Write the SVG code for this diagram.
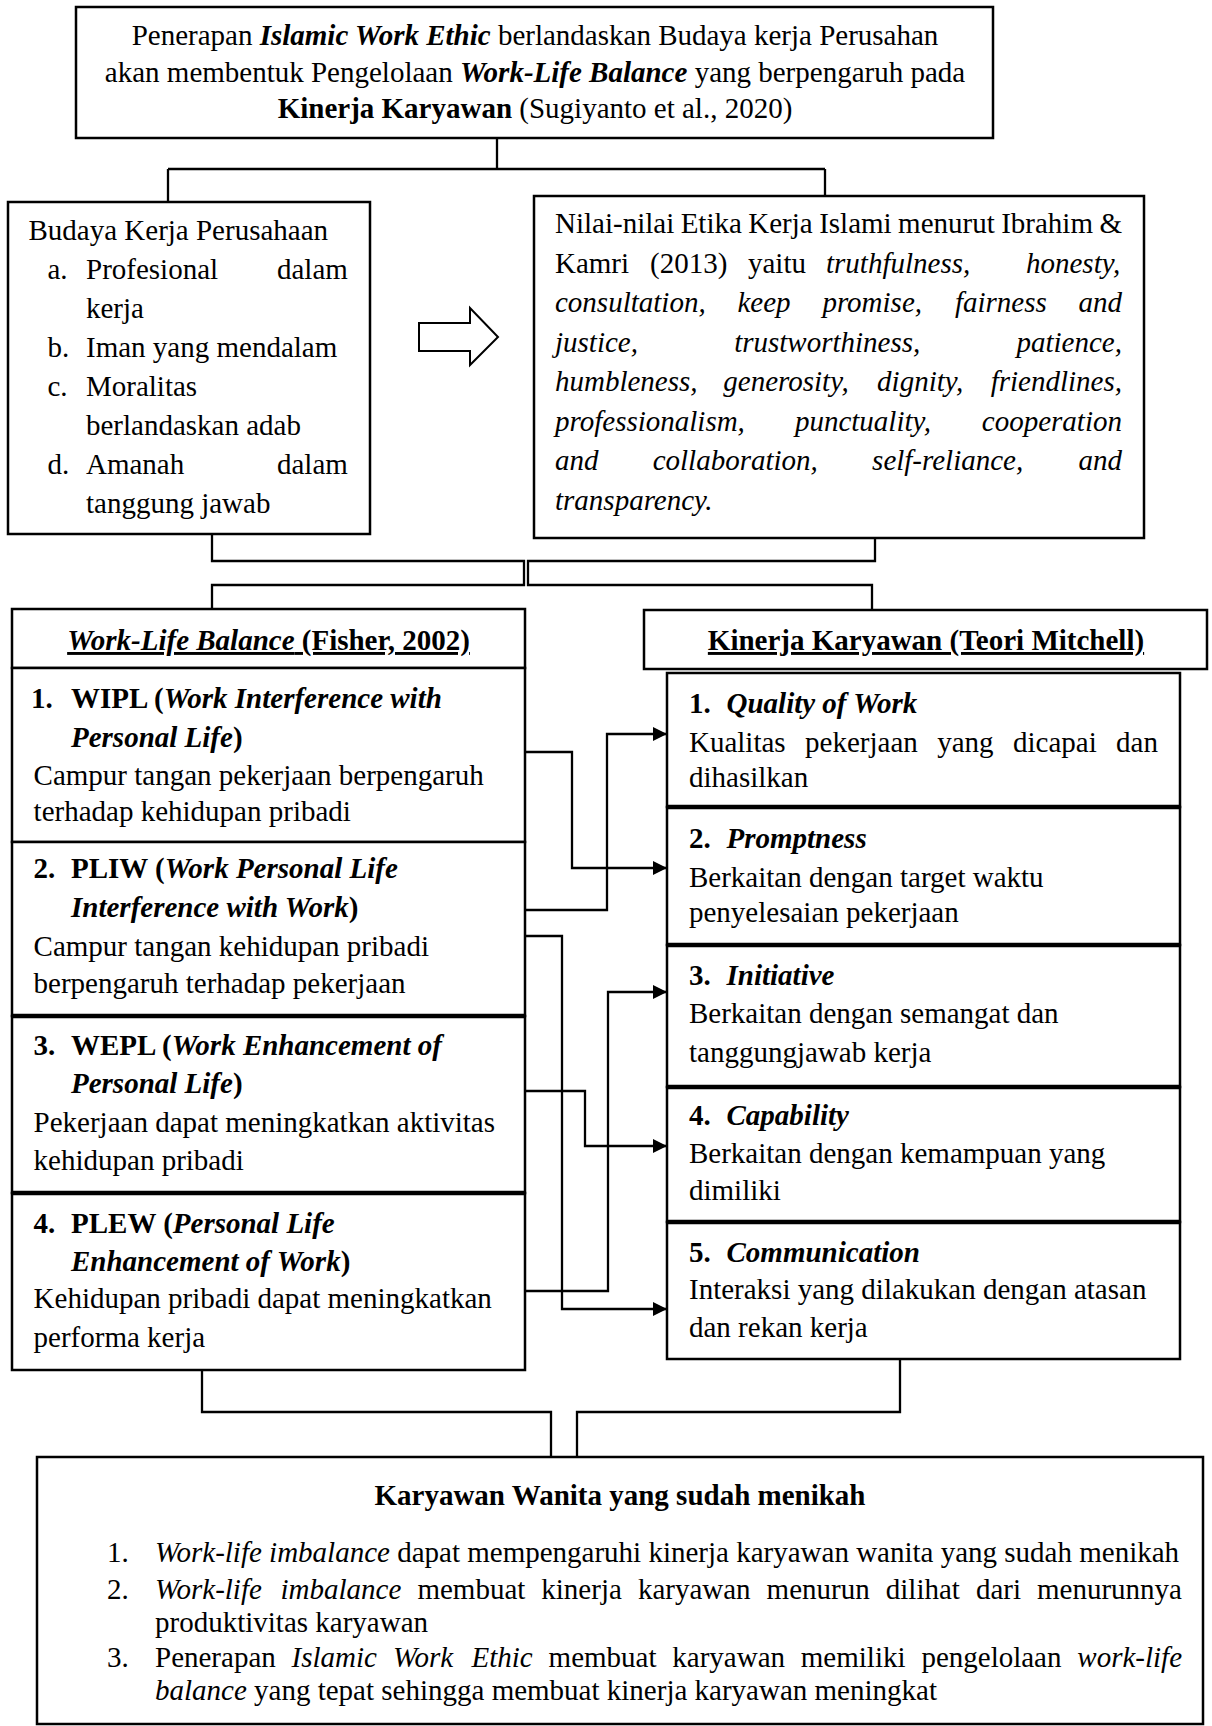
<svg xmlns="http://www.w3.org/2000/svg" width="1212" height="1726" viewBox="0 0 1212 1726">
<style>
.t{font-family:"Liberation Serif","Times New Roman",serif;font-size:29px;fill:#000}
.b{font-weight:bold}
.i{font-style:italic}
.u{text-decoration:underline}
.box{fill:#fff;stroke:#000;stroke-width:2.5}
.sep{stroke:#000;stroke-width:4.5}
.conn{fill:none;stroke:#000;stroke-width:2.3}
</style>
<defs>
<marker id="ah" markerWidth="15" markerHeight="15" refX="14" refY="7" orient="auto" markerUnits="userSpaceOnUse">
<path d="M0,0 L14,7 L0,14 z" fill="#000"/>
</marker>
</defs>
<rect width="1212" height="1726" fill="#fff"/>

<g id="connectors">
<path class="conn" d="M497,138 V169 M168,169 H825 M168,169 V201 M825,169 V196"/>
<path class="conn" d="M212,534 V561 H524 V585 H212 V609"/>
<path class="conn" d="M875,538 V561 H528 V585 H872 V610"/>
<path class="conn" d="M525,752 H572 V868 H667" marker-end="url(#ah)"/>
<path class="conn" d="M525,910 H607 V734 H667" marker-end="url(#ah)"/>
<path class="conn" d="M525,936 H562 V1309 H667" marker-end="url(#ah)"/>
<path class="conn" d="M525,1091 H585 V1146 H667" marker-end="url(#ah)"/>
<path class="conn" d="M525,1291 H608 V992 H667" marker-end="url(#ah)"/>
<path class="conn" d="M202,1370 V1412 H551 V1457"/>
<path class="conn" d="M900,1359 V1412 H577 V1457"/>
</g>

<g id="top">
<rect class="box" x="76" y="7" width="917" height="131"/>
<text class="t" x="535" y="45" text-anchor="middle">Penerapan <tspan class="b i">Islamic Work Ethic</tspan> berlandaskan Budaya kerja Perusahan</text>
<text class="t" x="535" y="82" text-anchor="middle">akan membentuk Pengelolaan <tspan class="b i">Work-Life Balance</tspan> yang berpengaruh pada</text>
<text class="t" x="535" y="118" text-anchor="middle"><tspan class="b">Kinerja Karyawan</tspan> (Sugiyanto et al., 2020)</text>
</g>

<g id="budaya">
<rect class="box" x="8" y="202" width="362" height="332"/>
<text class="t" x="28.5" y="240">Budaya Kerja Perusahaan</text>
<text class="t" y="279"><tspan x="47.5">a.</tspan><tspan x="86">Profesional</tspan><tspan x="277">dalam</tspan></text>
<text class="t" x="86" y="318">kerja</text>
<text class="t" y="357"><tspan x="47.5">b.</tspan><tspan x="86">Iman yang mendalam</tspan></text>
<text class="t" y="396"><tspan x="47.5">c.</tspan><tspan x="86">Moralitas</tspan></text>
<text class="t" x="86" y="435">berlandaskan adab</text>
<text class="t" y="474"><tspan x="47.5">d.</tspan><tspan x="86">Amanah</tspan><tspan x="277">dalam</tspan></text>
<text class="t" x="86" y="513">tanggung jawab</text>
</g>

<g id="hollow-arrow">
<polygon points="419,323 470,323 470,308 498,337 470,365 470,351 419,351" fill="#fff" stroke="#000" stroke-width="2"/>
</g>

<g id="nilai">
<rect class="box" x="534" y="196" width="610" height="342"/>
<text class="t" x="555" y="233" style="word-spacing:-0.8px">Nilai-nilai Etika Kerja Islami menurut Ibrahim &amp;</text>
<text class="t" y="272.6"><tspan x="555">Kamri</tspan><tspan x="650">(2013)</tspan><tspan x="748">yaitu</tspan><tspan x="826" class="i">truthfulness,</tspan><tspan x="1026" class="i">honesty,</tspan></text>
<text class="t i" y="312.1"><tspan x="555">consultation,</tspan><tspan x="737.5">keep</tspan><tspan x="822.4">promise,</tspan><tspan x="954.9">fairness</tspan><tspan x="1078.5">and</tspan></text>
<text class="t i" y="351.7"><tspan x="555">justice,</tspan><tspan x="734.2">trustworthiness,</tspan><tspan x="1016.5">patience,</tspan></text>
<text class="t i" y="391.3"><tspan x="555">humbleness,</tspan><tspan x="723.3">generosity,</tspan><tspan x="877.1">dignity,</tspan><tspan x="990.7">friendlines,</tspan></text>
<text class="t i" y="430.9"><tspan x="555">professionalism,</tspan><tspan x="794.9">punctuality,</tspan><tspan x="981.8">cooperation</tspan></text>
<text class="t i" y="470.4"><tspan x="555">and</tspan><tspan x="652.7">collaboration,</tspan><tspan x="872.1">self-reliance,</tspan><tspan x="1078.5">and</tspan></text>
<text class="t i" x="555" y="510">transparency.</text>
</g>

<g id="wlb-header">
<rect class="box" x="12" y="609" width="513" height="59"/>
<text class="t b u" x="268.5" y="650" text-anchor="middle"><tspan class="i">Work-Life Balance</tspan> (Fisher, 2002)</text>
</g>

<g id="wlb-1">
<rect class="box" x="12" y="668" width="513" height="174"/>
<text class="t b" y="708"><tspan x="31">1.</tspan><tspan x="71">WIPL (</tspan><tspan class="i">Work Interference with</tspan></text>
<text class="t b" x="71" y="747"><tspan class="i">Personal Life</tspan>)</text>
<text class="t" x="33.6" y="785">Campur tangan pekerjaan berpengaruh</text>
<text class="t" x="33.6" y="821">terhadap kehidupan pribadi</text>
</g>

<g id="wlb-2">
<rect class="box" x="12" y="842" width="513" height="174"/>
<text class="t b" y="878"><tspan x="33.6">2.</tspan><tspan x="71">PLIW (</tspan><tspan class="i">Work Personal Life</tspan></text>
<text class="t b" x="71" y="917"><tspan class="i">Interference with Work</tspan>)</text>
<text class="t" x="33.6" y="956">Campur tangan kehidupan pribadi</text>
<text class="t" x="33.6" y="993">berpengaruh terhadap pekerjaan</text>
</g>

<g id="wlb-3">
<rect class="box" x="12" y="1016" width="513" height="177"/>
<line class="sep" x1="12" y1="1016" x2="525" y2="1016"/>
<text class="t b" y="1055"><tspan x="33.6">3.</tspan><tspan x="71">WEPL (</tspan><tspan class="i">Work Enhancement of</tspan></text>
<text class="t b" x="71" y="1093"><tspan class="i">Personal Life</tspan>)</text>
<text class="t" x="33.6" y="1132">Pekerjaan dapat meningkatkan aktivitas</text>
<text class="t" x="33.6" y="1170">kehidupan pribadi</text>
</g>

<g id="wlb-4">
<rect class="box" x="12" y="1193" width="513" height="177"/>
<line class="sep" x1="12" y1="1193" x2="525" y2="1193"/>
<text class="t b" y="1233"><tspan x="33.6">4.</tspan><tspan x="71">PLEW (</tspan><tspan class="i">Personal Life</tspan></text>
<text class="t b" x="71" y="1271"><tspan class="i">Enhancement of Work</tspan>)</text>
<text class="t" x="33.6" y="1308">Kehidupan pribadi dapat meningkatkan</text>
<text class="t" x="33.6" y="1347">performa kerja</text>
</g>

<g id="kinerja-header">
<rect class="box" x="644" y="610" width="563" height="59"/>
<text class="t b u" x="926" y="650" text-anchor="middle">Kinerja Karyawan (Teori Mitchell)</text>
</g>

<g id="kinerja-1">
<rect class="box" x="667" y="673" width="513" height="134"/>
<text class="t b" y="713"><tspan x="689">1.</tspan><tspan x="726.5" class="i">Quality of Work</tspan></text>
<text class="t" y="752"><tspan x="689">Kualitas</tspan><tspan x="805.1">pekerjaan</tspan><tspan x="937.2">yang</tspan><tspan x="1013">dicapai</tspan><tspan x="1116.1">dan</tspan></text>
<text class="t" x="689" y="787">dihasilkan</text>
</g>

<g id="kinerja-2">
<rect class="box" x="667" y="807" width="513" height="138"/>
<line class="sep" x1="667" y1="807" x2="1180" y2="807"/>
<text class="t b" y="848"><tspan x="689">2.</tspan><tspan x="726.5" class="i">Promptness</tspan></text>
<text class="t" x="689" y="887">Berkaitan dengan target waktu</text>
<text class="t" x="689" y="922">penyelesaian pekerjaan</text>
</g>

<g id="kinerja-3">
<rect class="box" x="667" y="945" width="513" height="142"/>
<line class="sep" x1="667" y1="945" x2="1180" y2="945"/>
<text class="t b" y="985"><tspan x="689">3.</tspan><tspan x="726.5" class="i">Initiative</tspan></text>
<text class="t" x="689" y="1023">Berkaitan dengan semangat dan</text>
<text class="t" x="689" y="1062">tanggungjawab kerja</text>
</g>

<g id="kinerja-4">
<rect class="box" x="667" y="1087" width="513" height="135"/>
<line class="sep" x1="667" y1="1087" x2="1180" y2="1087"/>
<text class="t b" y="1125"><tspan x="689">4.</tspan><tspan x="726.5" class="i">Capability</tspan></text>
<text class="t" x="689" y="1163">Berkaitan dengan kemampuan yang</text>
<text class="t" x="689" y="1200">dimiliki</text>
</g>

<g id="kinerja-5">
<rect class="box" x="667" y="1222" width="513" height="137"/>
<line class="sep" x1="667" y1="1222" x2="1180" y2="1222"/>
<text class="t b" y="1262"><tspan x="689">5.</tspan><tspan x="726.5" class="i">Communication</tspan></text>
<text class="t" x="689" y="1299">Interaksi yang dilakukan dengan atasan</text>
<text class="t" x="689" y="1337">dan rekan kerja</text>
</g>

<g id="karyawan-wanita">
<rect class="box" x="37" y="1457" width="1166" height="267"/>
<text class="t b" x="620" y="1505" text-anchor="middle">Karyawan Wanita yang sudah menikah</text>
<text class="t" y="1562"><tspan x="107">1.</tspan><tspan x="155" class="i">Work-life imbalance</tspan> dapat mempengaruhi kinerja karyawan wanita yang sudah menikah</text>
<text class="t" y="1599"><tspan x="107">2.</tspan><tspan x="155" class="i">Work-life</tspan><tspan x="280.5" class="i">imbalance</tspan><tspan x="417.4">membuat</tspan><tspan x="541.3">kinerja</tspan><tspan x="637.9">karyawan</tspan><tspan x="766.6">menurun</tspan><tspan x="885.8">dilihat</tspan><tspan x="975.9">dari</tspan><tspan x="1037">menurunnya</tspan></text>
<text class="t" x="155" y="1632">produktivitas karyawan</text>
<text class="t" y="1667"><tspan x="107">3.</tspan><tspan x="155">Penerapan</tspan><tspan x="291.6" class="i">Islamic</tspan><tspan x="392.9" class="i">Work</tspan><tspan x="471.5" class="i">Ethic</tspan><tspan x="548.6">membuat</tspan><tspan x="672.3">karyawan</tspan><tspan x="800.8">memiliki</tspan><tspan x="921.4">pengelolaan</tspan><tspan x="1077.3" class="i">work-life</tspan></text>
<text class="t" x="155" y="1700"><tspan class="i">balance</tspan> yang tepat sehingga membuat kinerja karyawan meningkat</text>
</g>
</svg>
